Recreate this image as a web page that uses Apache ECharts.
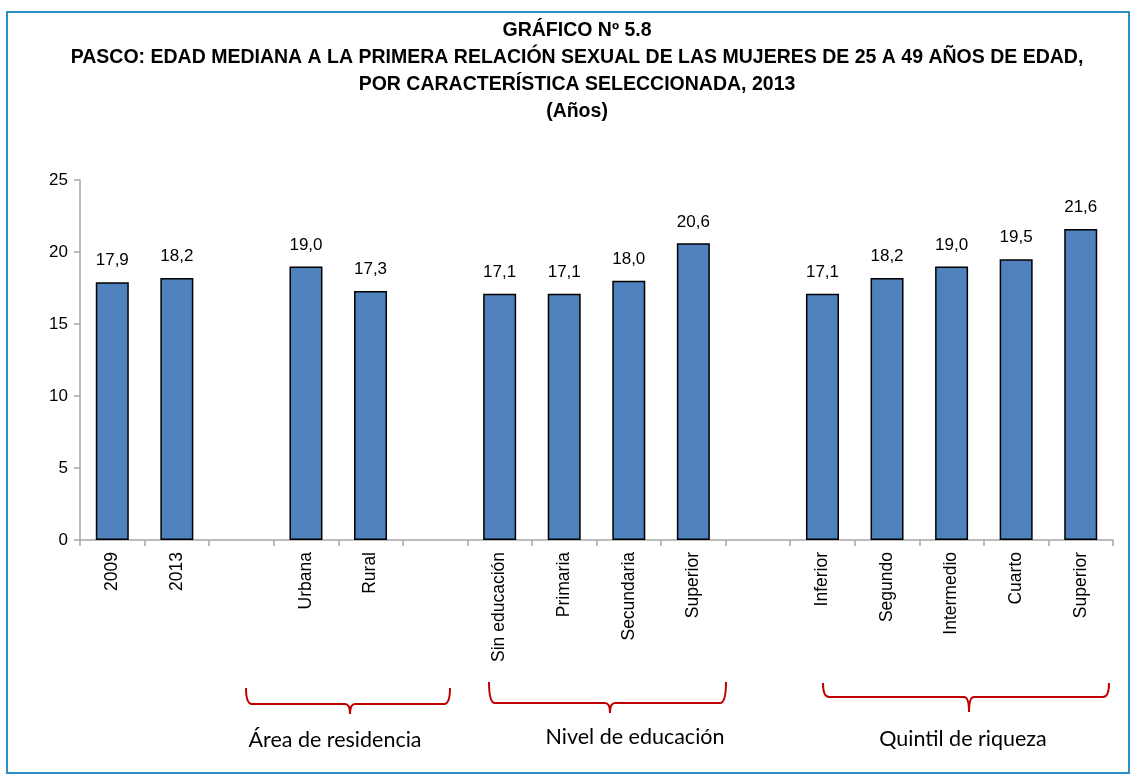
<!DOCTYPE html>
<html>
<head>
<meta charset="utf-8">
<script src="https://cdn.jsdelivr.net/npm/echarts@6/dist/echarts.min.js"></script>
<style>
  html, body { margin: 0; padding: 0; background: #fff; }
  #chart { width: 1136px; height: 780px; }
</style>
</head>
<body>
<div id="chart"></div>
<script>
// categorías (las cadenas vacías son los huecos entre grupos)
const categories = ['2009', '2013', '', 'Urbana', 'Rural', '', 'Sin educación', 'Primaria', 'Secundaria', 'Superior', '', 'Inferior', 'Segundo', 'Intermedio', 'Cuarto', 'Superior']
const values = [17.9, 18.2, '-', 19.0, 17.3, '-', 17.1, 17.1, 18.0, 20.6, '-', 17.1, 18.2, 19.0, 19.5, 21.6]
const titleLines = [
  'GRÁFICO Nº 5.8',
  'PASCO: EDAD MEDIANA A LA PRIMERA RELACIÓN SEXUAL DE LAS MUJERES DE 25 A 49 AÑOS DE EDAD,',
  'POR CARACTERÍSTICA SELECCIONADA, 2013',
  '(Años)',
]
const groupLabels = ['Área de residencia', 'Nivel de educación', 'Quintil de riqueza']

const baseFont = '"Liberation Sans", Arial, sans-serif'

// llave horizontal abierta hacia arriba
const Brace = echarts.graphic.extendShape({
  shape: { x1: 0, x2: 0, top: 0, line: 0, tip: 0, cx: 0 },
  buildPath(ctx, s) {
    ctx.moveTo(s.x1, s.top)
    ctx.quadraticCurveTo(s.x1, s.line, s.x1 + 6, s.line)
    ctx.lineTo(s.cx - 5, s.line)
    ctx.quadraticCurveTo(s.cx, s.line, s.cx, s.tip)
    ctx.quadraticCurveTo(s.cx, s.line, s.cx + 5, s.line)
    ctx.lineTo(s.x2 - 6, s.line)
    ctx.quadraticCurveTo(s.x2, s.line, s.x2, s.top)
  },
})
echarts.graphic.registerShape('brace', Brace)

const braces = [
  { x1: 246, x2: 450, top: 688, line: 704, tip: 714, cx: 350, lx: 335, ly: 740 },
  { x1: 489, x2: 726, top: 682, line: 703, tip: 713, cx: 610, lx: 635, ly: 737 },
  { x1: 823, x2: 1109, top: 683, line: 697, tip: 712, cx: 969, lx: 963, ly: 739 },
]

const graphics = [
  {
    type: 'rect',
    shape: { x: 7, y: 12, width: 1122, height: 761 },
    style: { fill: 'none', stroke: '#2A8FC7', lineWidth: 2 },
    silent: true,
  },
]
titleLines.forEach((t, i) => {
  graphics.push({
    type: 'text',
    x: 577,
    y: 31 + i * 27,
    style: {
      text: t,
      fill: '#000',
      font: `bold 19.5px ${baseFont}`,
      textAlign: 'center',
      textVerticalAlign: 'middle',
    },
  })
})
braces.forEach((b, i) => {
  graphics.push({
    type: 'brace',
    shape: { x1: b.x1, x2: b.x2, top: b.top, line: b.line, tip: b.tip, cx: b.cx },
    style: { fill: 'none', stroke: '#C00000', lineWidth: 2 },
  })
  graphics.push({
    type: 'text',
    x: b.lx,
    y: b.ly,
    style: {
      text: groupLabels[i],
      fill: '#000',
      font: '21.5px Lato, "Open Sans", sans-serif',
      textAlign: 'center',
      textVerticalAlign: 'middle',
    },
  })
})

const chart = echarts.init(document.getElementById('chart'))
chart.setOption({
  animation: false,
  textStyle: { fontFamily: baseFont },
  grid: { left: 80, right: 23, top: 180, bottom: 240, containLabel: false },
  xAxis: {
    type: 'category',
    data: categories,
    axisLine: { lineStyle: { color: '#A6A6A6', width: 1.5 } },
    axisTick: { show: true, length: 6, lineStyle: { color: '#A6A6A6', width: 1.5 } },
    axisLabel: { rotate: 90, interval: 0, color: '#000', fontSize: 17.5, fontFamily: baseFont, margin: 12 },
  },
  yAxis: {
    type: 'value',
    min: 0,
    max: 25,
    interval: 5,
    axisLine: { show: true, lineStyle: { color: '#A6A6A6', width: 1.5 } },
    axisTick: { show: true, length: 6, lineStyle: { color: '#A6A6A6', width: 1.5 } },
    axisLabel: { color: '#000', fontSize: 17, fontFamily: baseFont, margin: 12 },
    splitLine: { show: false },
  },
  series: [
    {
      type: 'bar',
      data: values,
      barWidth: 33,
      itemStyle: { color: '#4F81BD', borderColor: '#000', borderWidth: 1.5 },
      label: {
        show: true,
        position: 'top',
        distance: 13,
        color: '#000',
        fontSize: 17,
        fontFamily: baseFont,
        formatter: p => p.value.toFixed(1).replace('.', ','),
      },
    },
  ],
  graphic: graphics,
})
</script>
</body>
</html>
